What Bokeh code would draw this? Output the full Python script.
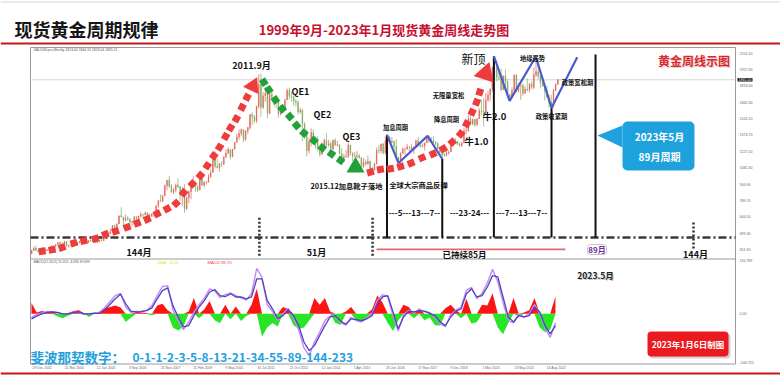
import numpy as np
import pandas as pd
from bokeh.plotting import figure
from bokeh.models import Range1d
from bokeh.core.properties import value
from bokeh.embed import file_html
from bokeh.resources import INLINE

CJK = "Noto Sans CJK SC"
LAT = "Liberation Sans"

# ---------------- data: monthly spot gold (USD/oz), Dec-2002 .. Jan-2023 ----------------
first_month = "2002-12"
first_open = 317
close = [347,
         367, 347, 334, 336, 361, 346, 354, 375, 385, 386, 398, 416,
         402, 396, 427, 388, 393, 395, 391, 407, 415, 428, 453, 438,
         422, 435, 428, 435, 417, 435, 429, 433, 473, 470, 495, 513,
         568, 556, 582, 654, 643, 613, 633, 624, 599, 604, 646, 632,
         650, 665, 662, 680, 659, 650, 666, 673, 743, 789, 783, 834,
         923, 972, 916, 865, 886, 928, 913, 833, 880, 718, 816, 869,
         928, 942, 916, 883, 979, 926, 954, 955, 1001, 1040, 1182, 1096,
         1081, 1118, 1113, 1180, 1213, 1244, 1181, 1248, 1307, 1357, 1386, 1421,
         1333, 1411, 1439, 1556, 1536, 1500, 1628, 1826, 1620, 1722, 1746, 1565,
         1737, 1710, 1669, 1664, 1561, 1604, 1614, 1687, 1772, 1719, 1712, 1675,
         1663, 1579, 1595, 1472, 1393, 1234, 1314, 1396, 1327, 1323, 1253, 1202,
         1244, 1326, 1284, 1296, 1250, 1327, 1282, 1287, 1210, 1171, 1183, 1184,
         1283, 1213, 1183, 1183, 1190, 1172, 1095, 1133, 1115, 1142, 1065, 1061,
         1118, 1238, 1233, 1293, 1215, 1322, 1351, 1309, 1316, 1273, 1173, 1152,
         1211, 1249, 1249, 1268, 1268, 1242, 1269, 1322, 1280, 1271, 1275, 1303,
         1345, 1318, 1325, 1315, 1299, 1253, 1224, 1201, 1192, 1215, 1222, 1282,
         1321, 1313, 1292, 1283, 1305, 1409, 1413, 1520, 1472, 1513, 1464, 1517,
         1589, 1585, 1577, 1686, 1730, 1781, 1975, 1968, 1886, 1879, 1776, 1898,
         1847, 1734, 1708, 1769, 1906, 1770, 1814, 1814, 1743, 1783, 1775, 1829,
         1797, 1909, 1937, 1897, 1838, 1807, 1766, 1711, 1661, 1633, 1769, 1824,
         1865]
high = [350,
        383, 389, 353, 341, 374, 371, 359, 376, 391, 392, 400, 417,
        427, 419, 428, 427, 395, 398, 409, 411, 419, 431, 455, 456,
        443, 438, 446, 439, 432, 444, 431, 448, 476, 480, 498, 541,
        570, 576, 586, 654, 730, 645, 665, 652, 634, 612, 650, 650,
        656, 690, 671, 694, 690, 673, 679, 675, 745, 795, 845, 838,
        933, 975, 1011, 937, 904, 942, 988, 918, 910, 936, 826, 882,
        928, 1007, 964, 927, 982, 989, 960, 965, 1025, 1070, 1195, 1227,
        1162, 1125, 1140, 1181, 1249, 1265, 1246, 1250, 1311, 1388, 1424, 1432,
        1424, 1413, 1447, 1557, 1577, 1552, 1632, 1913, 1921, 1755, 1803, 1764,
        1763, 1791, 1710, 1684, 1671, 1641, 1627, 1693, 1788, 1796, 1755, 1723,
        1695, 1684, 1617, 1607, 1488, 1424, 1348, 1434, 1425, 1362, 1362, 1267,
        1280, 1345, 1392, 1331, 1315, 1332, 1345, 1322, 1287, 1255, 1205, 1239,
        1307, 1283, 1220, 1224, 1232, 1205, 1174, 1170, 1157, 1191, 1142, 1088,
        1124, 1263, 1283, 1297, 1304, 1362, 1375, 1367, 1353, 1326, 1337, 1180,
        1220, 1264, 1261, 1296, 1272, 1296, 1270, 1331, 1357, 1306, 1299, 1306,
        1366, 1361, 1356, 1365, 1317, 1309, 1265, 1225, 1214, 1243, 1237, 1284,
        1326, 1346, 1324, 1310, 1306, 1439, 1452, 1555, 1557, 1518, 1516, 1525,
        1611, 1689, 1704, 1747, 1765, 1789, 1984, 2075, 1992, 1933, 1965, 1906,
        1959, 1871, 1740, 1798, 1913, 1916, 1833, 1834, 1834, 1814, 1877, 1831,
        1853, 1974, 2070, 1998, 1910, 1880, 1814, 1808, 1735, 1730, 1786, 1833,
        1871]
low = [317,
       342, 341, 319, 319, 335, 342, 342, 352, 370, 367, 375, 395,
       398, 393, 390, 381, 371, 383, 387, 386, 400, 412, 425, 431,
       414, 410, 423, 422, 414, 414, 417, 429, 432, 462, 466, 490,
       514, 538, 538, 581, 641, 543, 606, 611, 560, 561, 604, 605,
       603, 644, 636, 662, 652, 640, 648, 645, 671, 723, 780, 780,
       834, 883, 904, 860, 848, 862, 902, 786, 740, 681, 705, 766,
       802, 918, 866, 865, 884, 920, 907, 932, 950, 993, 1040, 1075,
       1074, 1045, 1088, 1110, 1166, 1204, 1155, 1176, 1244, 1313, 1330, 1360,
       1309, 1323, 1380, 1420, 1462, 1478, 1480, 1610, 1535, 1603, 1668, 1523,
       1562, 1689, 1627, 1613, 1527, 1547, 1564, 1588, 1686, 1692, 1672, 1635,
       1626, 1555, 1562, 1321, 1338, 1180, 1208, 1271, 1292, 1251, 1226, 1181,
       1202, 1238, 1277, 1268, 1246, 1240, 1280, 1273, 1206, 1160, 1131, 1170,
       1167, 1191, 1142, 1175, 1169, 1162, 1077, 1080, 1098, 1111, 1053, 1046,
       1062, 1111, 1208, 1208, 1200, 1199, 1310, 1301, 1302, 1241, 1171, 1124,
       1146, 1208, 1195, 1242, 1214, 1236, 1204, 1267, 1276, 1261, 1264, 1236,
       1302, 1307, 1303, 1302, 1282, 1247, 1211, 1160, 1180, 1182, 1196, 1221,
       1276, 1302, 1281, 1266, 1267, 1301, 1381, 1400, 1459, 1459, 1445, 1456,
       1517, 1547, 1451, 1567, 1670, 1671, 1757, 1863, 1848, 1860, 1764, 1775,
       1802, 1717, 1677, 1704, 1766, 1751, 1751, 1688, 1721, 1746, 1759, 1753,
       1781, 1780, 1890, 1872, 1787, 1805, 1681, 1709, 1615, 1617, 1616, 1765,
       1822]

# ---------------- MACD pane (read every 0.2 year from 2002.95) ----------------
macd_start = 2002.95
macd_step = 0.2
macd_hist = [24, 3, 6, 3, 5, -6, -10, -4, 6, 8,
             2, -7, 2, 5, 12, 15, 18, 14, -18, -8,
             4, 3, 2, -3, 18, 22, 8, -30, -37, -28,
             5, 35, -10, 10, 28, -15, -20, 20, -12, 16,
             -16, -5, 20, 55, -50, -30, -20, -28, 15, 10,
             -25, -33, -30, -15, 35, 20, 35, 5, -20, -24,
             5, 15, -15, -18, -12, 10, 40, 25, -20, -38,
             -15, 20, 15, -10, 12, -14, -8, -25, -26, 12,
             20, 8, -10, 33, -22, -18, 20, 18, 45, -30,
             -45, -20, 35, -6, 3, 8, 35, -30, -40, -35, 38]
macd_slow = [-11, -5, 0, 3, 4, 3, 0, 0, 3, 4,
             0, 0, 1, 1, 9, 21, 33, 43, 22, 6,
             4, 5, 7, 13, 33, 51, 57, 18, -7, -29,
             -26, -4, 15, 29, 48, 53, 40, 38, 44, 37,
             37, 33, 37, 77, 77, 29, 11, -11, -4, 9,
             -4, -26, -62, -81, -70, -48, -26, -7, -4, -16,
             -23, -11, -13, -15, -11, -4, 22, 37, 40, 4,
             -33, -7, 6, 4, 7, 6, 1, -4, -18, -26,
             -7, 6, 11, 44, 55, 37, 40, 59, 84, 81,
             37, -7, -18, -4, -7, -4, 15, 4, -26, -44, -26]
macd_fast = [-8, -2, 2, 5, 4, 2, -1, 1, 4, 3,
             -1, 0, 2, 3, 14, 27, 40, 45, 15, 3,
             5, 6, 8, 18, 40, 60, 62, 8, -15, -35,
             -18, 3, 20, 35, 55, 50, 36, 42, 46, 40,
             35, 30, 45, 100, 80, 20, 5, -15, 0, 12,
             -10, -35, -75, -92, -62, -40, -15, -5, -2, -20,
             -25, -8, -15, -18, -8, 0, 30, 42, 38, -5,
             -38, -2, 8, 2, 10, 5, 3, -8, -22, -28,
             -2, 8, 15, 52, 58, 33, 45, 68, 98, 70,
             25, -15, -20, 0, -8, 0, 20, 0, -32, -52, -20]

# ---------------- axis labels ----------------
price_ticks = [2102.10, 1957.90, 1813.00, 1665.30, 1520.10, 1373.70, 1227.50,
               1082.30, 934.90, 789.70, 644.50, 499.30, 351.90]
macd_ticks = [116.789, 0.0, -106.755]
macd_tick_text = ["116.789", "0.00", "-106.755"]
date_ticks = ["2002-12-29", "2004-03-21", "2005-06-12", "2006-09-03", "2007-11-25",
              "2009-02-15", "2010-05-09", "2011-07-31", "2012-10-21", "2014-01-12",
              "2015-04-05", "2016-06-26", "2017-09-17", "2018-12-09", "2020-03-01",
              "2021-05-23", "2022-08-14"]
date_labels = ["29 Dec 2002", "21 Mar 2004", "12 Jun 2005", "3 Sep 2006", "25 Nov 2007",
               "15 Feb 2009", "9 May 2010", "31 Jul 2011", "21 Oct 2012", "12 Jan 2014",
               "5 Apr 2015", "26 Jun 2016", "17 Sep 2017", "9 Dec 2018", "1 Mar 2020",
               "23 May 2021", "14 Aug 2022"]

# ---------------- hand-drawn annotations (decimal year, USD/oz) ----------------
up1_t = [2003.36, 2003.74, 2004.12, 2004.57, 2004.95, 2005.39, 2005.77, 2006.16, 2006.60,
         2006.99, 2007.37, 2007.75, 2008.13, 2008.47, 2008.76, 2009.09, 2009.40, 2009.66,
         2009.91, 2010.13, 2010.36, 2010.55, 2010.77, 2010.99, 2011.18]
up1_p = [339, 352, 372, 412, 432, 452, 490, 517, 553, 589, 624, 672, 717, 765, 860, 939,
         1013, 1100, 1188, 1265, 1360, 1438, 1518, 1621, 1710]
peak_mark = (2011.40, 1810)
down_t = [2011.82, 2012.01, 2012.26, 2012.52, 2012.81, 2013.07, 2013.35, 2013.73,
          2014.05, 2014.40, 2014.75]
down_p = [1844, 1776, 1687, 1607, 1538, 1458, 1390, 1325, 1260, 1206, 1147]
low_mark = (2015.32, 1087)
up2_t = [2015.89, 2016.27, 2016.65, 2017.04, 2017.44, 2017.86, 2018.28, 2018.67,
         2019.01, 2019.33, 2019.56, 2019.77, 2019.94, 2020.06]
up2_p = [1043, 1067, 1073, 1093, 1123, 1171, 1206, 1251, 1310, 1384, 1473, 1577, 1666, 1755]
arrow_mark = (2020.28, 1921)
zig1_t = [2016.52, 2016.96, 2018.07, 2018.63]
zig1_p = [1375, 1124, 1366, 1160]
zig2_t = [2020.60, 2021.20, 2022.20, 2022.80, 2023.78]
zig2_p = [2075, 1677, 2070, 1615, 2066]
cycle_t = [2016.52, 2018.63, 2020.60, 2022.80, 2024.48]
cycle_top = [1375, 1160, 2075, 1615, 2090]
base_level = 461
fib_t = [2011.65, 2015.97, 2028.22]
fib_top = [639, 639, 596]
fib_bottom = [300, 300, 363]
held_t = [2016.12, 2023.33]
held_level = 355

# ---------------- scales (pixel calibration of the screenshot) ----------------
W, H = 780, 392
PX_PER_YEAR = 26.2
T_LEFT = 2002.99 - 32 / PX_PER_YEAR
USD_PER_PX = 8.9
P_TOP = 351.9 + 249.3 * USD_PER_PX
MACD_PER_PX = 2.2
M_TOP = 313.3 * MACD_PER_PX

p = figure(width=W, height=H,
           x_range=Range1d(T_LEFT, T_LEFT + W / PX_PER_YEAR),
           y_range=Range1d(P_TOP - H * USD_PER_PX, P_TOP),
           x_axis_type=None, y_axis_type=None, toolbar_location=None,
           output_backend="svg", min_border=0)
p.outline_line_color = None
p.background_fill_color = "white"
p.border_fill_color = "white"
p.extra_x_ranges = {"slide": Range1d(0, W)}
p.extra_y_ranges = {"slide": Range1d(H, 0), "macd": Range1d(M_TOP - H * MACD_PER_PX, M_TOP)}
S = dict(x_range_name="slide", y_range_name="slide")

FR_L, FR_R, FR_T, FR_M, FR_B = 30, 735, 47, 258.5, 363.5


def label(x, y, s, size, color="#111111", bold=True, align="center", font=CJK, **kw):
    p.text(x=[x], y=[y], text=[s], text_font=value(font), text_font_size=value(f"{size}px"),
           text_color=color, text_font_style="bold" if bold else "normal",
           text_align=align, text_baseline="middle", **S, **kw)


# slide rules
p.segment(x0=[0], y0=[1.5], x1=[W], y1=[1.5], line_color="#d6d6d6", line_width=1, **S)
p.segment(x0=[0, 0], y0=[43, 373], x1=[W, W], y1=[43, 373], line_color="#c4161c", line_width=2, **S)

# chart frame
p.segment(x0=[FR_L, FR_R, FR_L, FR_L, FR_L], y0=[FR_T, FR_T, FR_T, FR_M, FR_B],
          x1=[FR_L, FR_R, FR_R, FR_R, FR_R], y1=[FR_B, FR_B, FR_T, FR_M, FR_B],
          line_color="#9a9a9a", line_width=1, **S)

# bid line at last close
p.segment(x0=[FR_L], y0=[close[-1]], x1=[FR_R], y1=[close[-1]], line_color="#d4d4d4",
          line_width=1, x_range_name="slide")

# ---------------- candles ----------------
months = pd.period_range(first_month, periods=len(close), freq="M")
t_mid = np.array([m.year + (m.month - 0.5) / 12 for m in months])
c = np.array(close, dtype=float)
o = np.array([first_open] + close[:-1], dtype=float)
col = np.where(c >= o, "#e0675a", "#7fae62")
p.segment(x0=t_mid, y0=low, x1=t_mid, y1=high, line_color=col, line_width=0.7)
p.vbar(x=t_mid, width=0.03, top=np.maximum(o, c), bottom=np.minimum(o, c),
       fill_color=col, line_color=col, line_width=0.4)

# ---------------- MACD ----------------
mt = macd_start + macd_step * np.arange(len(macd_hist))
hh = np.array(macd_hist, dtype=float)
p.varea(x=mt, y1=0, y2=np.maximum(hh, 0), fill_color="#ff1414", y_range_name="macd")
p.varea(x=mt, y1=0, y2=np.minimum(hh, 0), fill_color="#26e626", y_range_name="macd")
p.line(mt, macd_fast, line_color="#c58af0", line_width=1.4, y_range_name="macd")
p.line(mt, macd_slow, line_color="#5140c4", line_width=1.3, y_range_name="macd")

# ---------------- drawings on the chart ----------------
p.segment(x0=[FR_L], y0=[base_level], x1=[FR_R], y1=[base_level], line_color="#3a3a3a",
          line_width=2.6, line_dash="8 3 2 3", x_range_name="slide")
p.segment(x0=cycle_t, y0=[base_level] * len(cycle_t), x1=cycle_t, y1=cycle_top,
          line_color="#111111", line_width=2)
p.segment(x0=fib_t, y0=fib_bottom, x1=fib_t, y1=fib_top, line_color="#333333",
          line_width=2.6, line_dash="2 2")
p.segment(x0=[held_t[0]], y0=[held_level], x1=[held_t[1]], y1=[held_level],
          line_color="#e36a6a", line_width=1.8)
p.line(zig1_t, zig1_p, line_color="#4a5ccc", line_width=2.2)
p.line(zig2_t, zig2_p, line_color="#4a5ccc", line_width=2.2)


def angles(t, pr):
    dx = np.gradient(np.array(t, dtype=float)) * PX_PER_YEAR
    dy = np.gradient(np.array(pr, dtype=float)) / USD_PER_PX
    return np.arctan2(dy, dx)


p.scatter(up1_t, up1_p, marker="square", size=7, angle=angles(up1_t, up1_p),
          fill_color="#ee3b3b", line_color=None)
p.scatter(down_t, down_p, marker="square", size=7, angle=angles(down_t, down_p),
          fill_color="#22a03a", line_color=None)
p.scatter(up2_t, up2_p, marker="square", size=7, angle=angles(up2_t, up2_p),
          fill_color="#ee3b3b", line_color=None)
p.scatter([peak_mark[0]], [peak_mark[1]], marker="triangle", size=17, angle=-0.45,
          fill_color="#ee3b3b", line_color=None)
p.scatter([low_mark[0]], [low_mark[1]], marker="triangle", size=18,
          fill_color="#22a03a", line_color=None)
p.scatter([arrow_mark[0]], [arrow_mark[1]], marker="triangle", size=21, angle=-0.32,
          fill_color="#ee3b3b", line_color=None)

# ---------------- axis tick labels ----------------
p.text(x=[739] * len(price_ticks), y=price_ticks, text=[f"{v:.2f}" for v in price_ticks],
       text_font=value(LAT), text_font_size=value("3.6px"), text_color="#666666",
       text_baseline="middle", x_range_name="slide")
p.quad(left=[737], right=[752], top=[close[-1] + 16], bottom=[close[-1] - 16],
       fill_color="#111111", line_color=None, x_range_name="slide")
p.text(x=[738], y=[close[-1]], text=[f"{close[-1]:.2f}"], text_font=value(LAT),
       text_font_size=value("3.6px"), text_color="white", text_baseline="middle",
       x_range_name="slide")
p.text(x=[739] * 3, y=macd_ticks, text=macd_tick_text, text_font=value(LAT),
       text_font_size=value("3.6px"), text_color="#666666", text_baseline="middle",
       x_range_name="slide", y_range_name="macd")
dt = pd.to_datetime(date_ticks)
date_x = dt.year + (dt.dayofyear - 1) / 365.25
p.text(x=list(date_x), y=[367.5] * len(date_x), text=date_labels, text_font=value(LAT),
       text_font_size=value("3.4px"), text_color="#666666", text_baseline="middle",
       y_range_name="slide")

# ---------------- texts ----------------
label(14, 28.5, "现货黄金周期规律", 18, "#151515", align="left")
label(383.5, 28.5, "1999年9月-2023年1月现货黄金周线走势图", 13, "#c8102e")

label(33, 49, "XAUUSDpro,Weekly  1823.04 1864.92 1823.04 1835.21", 3.4, "#555555", False, "left", LAT)
label(33, 261.5, "MACD(12,26,9) 11.253 -4.096 39.699", 3.4, "#555555", False, "left", LAT)
label(157, 261.5, "DEA: -4.09", 4.2, "#e4e400", False, "left", LAT)
label(207, 261.5, "MACD:39.70", 4.2, "#ff3030", False, "left", LAT)

label(694.5, 61, "黄金周线示图", 12, "#d8d8d8")
label(693.5, 60, "黄金周线示图", 12, "#e1262b")

label(251, 65, "2011.9月", 9)
label(291, 91, "QE1", 9, align="left")
label(313, 114, "QE2", 9, align="left")
label(342, 136, "QE3", 9, align="left")
label(346, 185, "2015.12加息靴子落地", 7.3)
label(418, 184, "全球大宗商品反弹", 7.3)
label(395, 127, "加息周期", 6.3)
label(448, 95, "无限量宽松", 6.3)
label(446, 119, "降息周期", 6.3)
label(476, 140, "牛1.0", 9.5)
label(494, 115, "牛2.0", 9.5)
label(473, 58, "新顶", 12, bold=False)
label(532, 58, "地缘局势", 6.3)
label(577, 82, "政策宽松期", 6.3)
label(551, 116, "政策收紧期", 6.3)
label(414, 212, "---5---13---7--", 8)
label(469, 212, "---23-24---", 8)
label(521, 212, "---7---13---7--", 8)
label(138.5, 252, "144月", 9)
label(316, 251.5, "51月", 9)
label(464, 253.5, "已持续85月", 8.5)
p.quad(left=[587], right=[606], top=[244], bottom=[254], fill_color="white",
       line_color="#c4c4c4", line_width=1, border_radius=3, **S)
label(596.5, 249, "89月", 8, "#7030a0")
label(695, 254, "144月", 9)
label(596, 275, "2023.5月", 8.5, "#c8c8c8")
label(595, 274, "2023.5月", 8.5, "#222222")

# blue callout
p.patch(x=[622, 597, 622], y=[125, 135, 147], fill_color="#1ea2de", line_color=None, **S)
p.quad(left=[622], right=[694], top=[121], bottom=[170], fill_color="#1ea2de",
       line_color=None, border_radius=5, **S)
label(659, 136, "2023年5月", 10, "white")
label(659, 156, "89月周期", 10, "white")

# red date stamp
p.quad(left=[649], right=[730], top=[333], bottom=[358], fill_color="#9a9a9a",
       fill_alpha=0.45, line_color=None, border_radius=4, **S)
p.quad(left=[647], right=[728], top=[331], bottom=[356], fill_color="#ea1a1f",
       line_color=None, border_radius=4, **S)
label(687.5, 343.5, "2023年1月6日制图", 8.5, "white")

# fibonacci footer
label(30, 356.5, "斐波那契数字：", 13.5, "#259fdc", align="left")
label(132, 357, "0-1-1-2-3-5-8-13-21-34-55-89-144-233", 12, "#259fdc", align="left")

open("out.html", "w").write(file_html(p, INLINE))
